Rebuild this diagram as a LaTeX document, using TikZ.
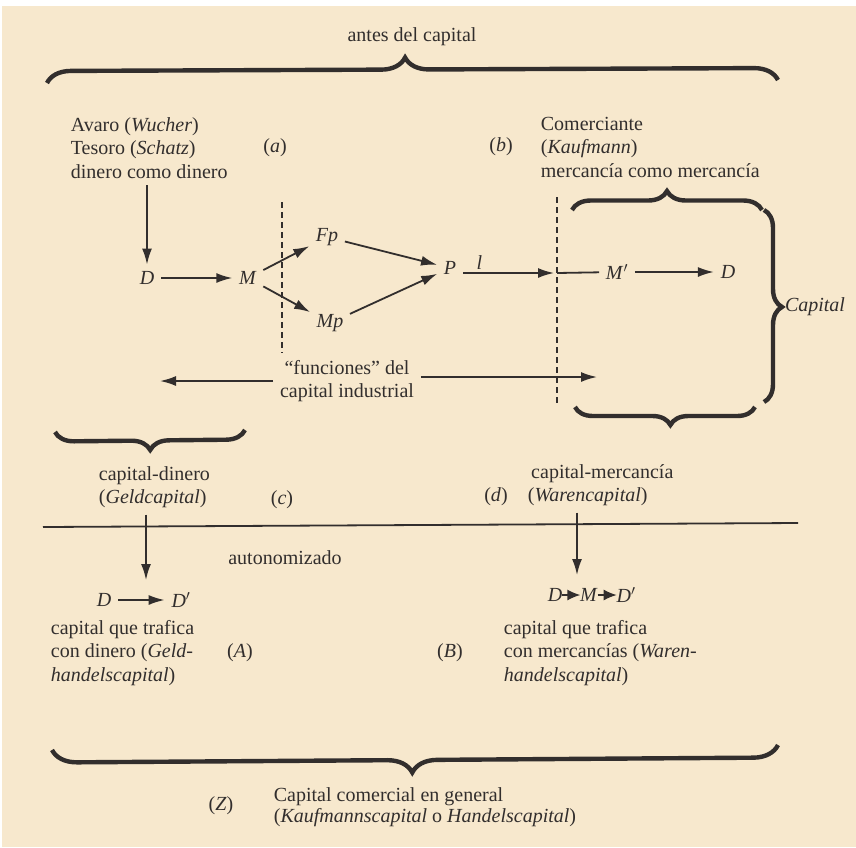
\documentclass[tikz,border=0pt]{standalone}
\usepackage{fontspec}
\setmainfont{Liberation Serif}
\usetikzlibrary{positioning,arrows.meta,decorations.pathreplacing}
\definecolor{paper}{RGB}{247,232,205}
\definecolor{ink}{RGB}{50,46,45}

\begin{document}
\begin{tikzpicture}[x=1pt,y=-1pt,on grid,node distance=23.5pt,color=ink,
  every node/.style={font=\fontsize{20}{23.5}\selectfont,inner sep=3pt},
  ->,>={Latex[length=16pt,width=10pt]},line width=1.8pt,
  shorten <=3pt,shorten >=3pt,
  brace line/.style={-,decorate,line width=4.4pt,shorten <=0pt,shorten >=0pt},
  cut line/.style={-,dash pattern=on 6pt off 4pt,line width=1.5pt,shorten <=0pt,shorten >=0pt},
  small/.style={-{Latex[length=13pt,width=11pt]},line width=1.4pt,shorten <=-1pt,shorten >=-1pt},
  block/.style={anchor=west,align=left}]
\useasboundingbox (0,0) rectangle (856,847);
\fill[white] (0,0) rectangle (856,847);
\fill[paper] (2,6) rectangle (856,847);
% top part
\node (antes) at (412,37) {antes del capital};
\draw[brace line,decoration={brace,amplitude=24pt,aspect=.49}] (47,83) -- (778,80);
\node[block] (avaro) at (67,148) {Avaro (\textit{Wucher})\\Tesoro (\textit{Schatz})\\dinero como dinero};
\node (a) at (275,148) {(\textit{a})};
\node (b) at (501,147) {(\textit{b})};
\node[block] (comer) at (537,147) {Comerciante\\(\textit{Kaufmann})\\mercancía como mercancía};
% circuit
\node (D1) at (147,278) {\textit{D}};
\node[right=101pt of D1] (M1) {\textit{M}};
\node (Fp) at (327,237) {\textit{Fp}};
\node (Mp) at (330,323) {\textit{Mp}};
\node (P) at (450,268) {\textit{P}};
\coordinate (cut) at (557,273);
\node (M2) at (617,272) {\textit{M}\('\)};
\node[right=111pt of M2] (D2) {\textit{D}};
\path
	(avaro.south -| D1) edge (D1)
	(D1) edge (M1)
	(M1) edge (Fp)
	(M1) edge (Mp)
	(Fp) edge (P)
	(Mp) edge (P)
	(P.east |- cut) edge node[pos=.2,above] {\textit{l}} (cut)
	(M2) edge (D2)
; %-path-%
\draw[-,shorten <=0pt] (cut) -- (M2);
\draw[cut line] (282,202) -- (282,353);
\draw[cut line] (557,197) -- (557,405);
\node[align=center] (fun) at (347,381) {``funciones'' del\\capital industrial};
\coordinate (fl) at (157,381);
\coordinate (fr) at (600,377);
\draw (fun) -- (fl);
\draw (fun.east |- fr) -- (fr);
% right braces
\draw[brace line,decoration={brace,amplitude=19pt,aspect=.5}] (572,210) -- (762,210);
\draw[brace line,decoration={brace,amplitude=18pt,aspect=.505}] (764,210) -- (764,402);
\draw[brace line,decoration={brace,amplitude=18pt,aspect=.47}] (755,407) -- (575,407);
\node (cap) at (815,307) {\textit{Capital}};
% lower part
\draw[brace line,decoration={brace,amplitude=19pt,aspect=.5}] (245,430) -- (55,432);
\node[block] (cdin) at (95,487) {capital-dinero\\(\textit{Geldcapital})};
\node (c) at (282,500) {(\textit{c})};
\node[block] (cmer) at (524,485) {\,capital-mercancía\\(\textit{Warencapital})};
\node (d) at (496,497) {(\textit{d})};
\draw[-,shorten <=0pt,shorten >=0pt] (43,527) -- (798,523);
\node (aut) at (285,558) {autonomizado};
\coordinate (a1) at (146,580);
\coordinate (a2) at (577,575);
\draw[shorten >=0pt] (cdin.south -| a1) -- (a1);
\draw[shorten >=0pt] (cmer.south -| a2) -- (a2);
\node (D3) at (104,600) {\textit{D}};
\node[right=77pt of D3] (D4) {\textit{D}\('\)};
\node[inner sep=0pt] (D5) at (555,595) {\textit{D}};
\node[inner sep=0pt,right=34pt of D5] (M5) {\textit{M}};
\node[inner sep=0pt,right=37pt of M5] (D6) {\textit{D}\('\)};
\path
	(D3) edge (D4)
	(D5) edge[small] (M5)
	(M5) edge[small] (D6)
;
\node[block] (traf1) at (47,653) {capital que trafica\\con dinero (\textit{Geld-}\\\textit{handelscapital})};
\node (A) at (240,653) {(\textit{A})};
\node (B) at (450,653) {(\textit{B})};
\node[block] (traf2) at (500,653) {capital que trafica\\con mercancías (\textit{Waren-}\\\textit{handelscapital})};
% bottom
\draw[brace line,decoration={brace,amplitude=25pt,aspect=.504}] (778,745) -- (52,750);
\node (Z) at (221,806) {(\textit{Z})};
\node[block,font=\fontsize{20}{21}\selectfont] (zcap) at (270,807) {Capital comercial en general\\(\textit{Kaufmannscapital} o \textit{Handelscapital})};
\end{tikzpicture}
\end{document}
